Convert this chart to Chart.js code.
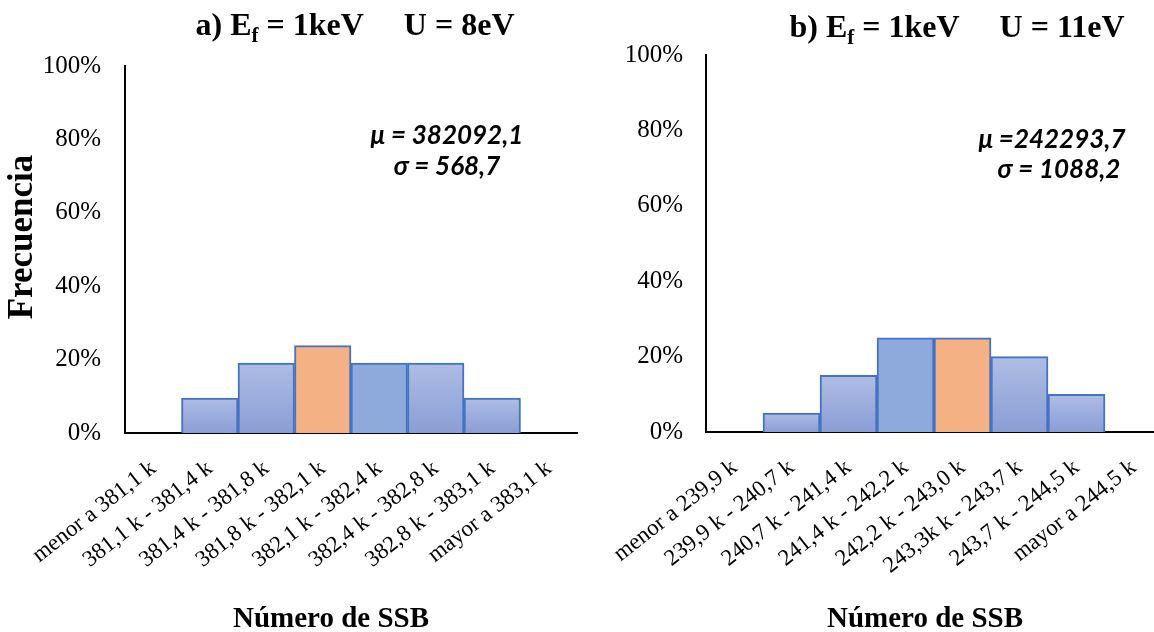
<!DOCTYPE html>
<html>
<head>
<meta charset="utf-8">
<script src="https://cdn.jsdelivr.net/npm/chart.js@4.4.1/dist/chart.umd.min.js"></script>
<style>
  html, body { margin: 0; padding: 0; background: #fff; width: 1154px; height: 632px; overflow: hidden; position: relative; }
  .panel { position: absolute; top: 0; height: 632px; }
  #panelA { left: 0; width: 580px; }
  #panelB { left: 580px; width: 590px; }
</style>
</head>
<body>
<div class="panel" id="panelA"><canvas id="histA" width="580" height="632"></canvas></div>
<div class="panel" id="panelB"><canvas id="histB" width="590" height="632"></canvas></div>
<script>
// Bins (SSB count intervals) and relative frequencies in percent
const binsA = ['menor a 381,1 k', '381,1 k - 381,4 k', '381,4 k - 381,8 k', '381,8 k - 382,1 k',
               '382,1 k - 382,4 k', '382,4 k - 382,8 k', '382,8 k - 383,1 k', 'mayor a 383,1 k'];
const freqA = [0, 9.52, 19.05, 23.81, 19.05, 19.05, 9.52, 0];

const binsB = ['menor a 239,9 k', '239,9 k - 240,7 k', '240,7 k - 241,4 k', '241,4 k - 242,2 k',
               '242,2 k - 243,0 k', '243,3k k - 243,7 k', '243,7 k - 244,5 k', 'mayor a 244,5 k'];
const freqB = [0, 5, 15, 25, 25, 20, 10, 0];

const yTicks = [0, 20, 40, 60, 80, 100];

const statsA = ['\u03bc = 382092,1', '\u03c3 = 568,7'];
const statsB = ['\u03bc =242293,7', '\u03c3 = 1088,2'];

const SERIF = '"Liberation Serif", "Times New Roman", serif';

// bins with a special fill: the one holding the mean (orange) and its flat-filled neighbour
const specialA = { 3: 'orange', 4: 'solid' };
const specialB = { 4: 'orange', 3: 'solid' };

function barFill(special) {
  return (c) => {
    const kind = special[c.dataIndex] || 'grad';
    if (kind === 'orange') return '#f4b183';
    if (kind === 'solid') return '#8eaadc';
    const chart = c.chart;
    const v = c.parsed ? c.parsed.y : c.raw;
    if (!chart.chartArea || !v) return '#9cafdc';
    const y = chart.scales.y;
    const g = chart.ctx.createLinearGradient(0, y.getPixelForValue(v), 0, y.getPixelForValue(0));
    g.addColorStop(0, '#aebde3');
    g.addColorStop(1, '#8a9ed6');
    return g;
  };
}

// titles with subscript, axis titles and statistics box
const captions = {
  id: 'captions',
  afterDraw(chart, args, o) {
    const ctx = chart.ctx;
    ctx.save();
    ctx.fillStyle = '#000';
    ctx.textBaseline = 'alphabetic';

    // chart title made of runs, some of them subscripted
    const t = o.title;
    let total = 0;
    const runs = t.runs.map(r => {
      ctx.font = r.sub ? t.subFont : t.font;
      const w = ctx.measureText(r.text).width;
      total += w;
      return { ...r, w };
    });
    let x = t.x - total / 2;
    ctx.textAlign = 'left';
    runs.forEach(r => {
      ctx.font = r.sub ? t.subFont : t.font;
      ctx.fillText(r.text, x, t.y + (r.sub ? t.subShift : 0));
      x += r.w;
    });

    // x axis title
    ctx.textAlign = 'center';
    ctx.font = o.xTitle.font;
    ctx.fillText(o.xTitle.text, o.xTitle.x, o.xTitle.y);

    // y axis title
    if (o.yTitle) {
      ctx.save();
      ctx.translate(o.yTitle.x, o.yTitle.y);
      ctx.rotate(-Math.PI / 2);
      ctx.font = o.yTitle.font;
      ctx.fillText(o.yTitle.text, 0, 0);
      ctx.restore();
    }

    // statistics
    ctx.font = o.stats.font;
    o.stats.lines.forEach((s, i) => ctx.fillText(s, o.stats.x[i], o.stats.y[i]));
    ctx.restore();
  }
};

function makeHist(canvasId, bins, freq, special, geo, cap) {
  return new Chart(document.getElementById(canvasId), {
    type: 'bar',
    data: {
      labels: bins,
      datasets: [{
        data: freq,
        backgroundColor: barFill(special),
        borderColor: '#4472c4',
        borderWidth: 2,
        categoryPercentage: 1.0,
        barPercentage: 1.0
      }]
    },
    options: {
      responsive: false,
      animation: false,
      devicePixelRatio: 1,
      layout: { padding: geo.padding },
      plugins: {
        legend: { display: false },
        tooltip: { enabled: false },
        captions: cap
      },
      scales: {
        x: {
          type: 'category',
          grid: { display: false, drawTicks: false },
          border: { display: true, color: '#000', width: 2 },
          ticks: {
            autoSkip: false,
            minRotation: 38,
            maxRotation: 38,
            padding: geo.xPad,
            color: '#000',
            font: { family: SERIF, size: 23 }
          },
          afterFit: (s) => {
            s.height = geo.xHeight;
            s.paddingLeft = 0;
            s.paddingRight = 0;
          }
        },
        y: {
          min: 0,
          max: 100,
          grid: { display: false, drawTicks: false },
          border: { display: true, color: '#000', width: 2 },
          ticks: {
            padding: geo.yPad,
            color: '#000',
            font: { family: SERIF, size: 25 },
            callback: (v) => v + '%'
          },
          afterBuildTicks: (s) => { s.ticks = yTicks.map(v => ({ value: v })); },
          afterFit: (s) => {
            s.width = geo.yWidth;
            s.paddingTop = 0;
            s.paddingBottom = 0;
          }
        }
      }
    },
    plugins: [captions]
  });
}

makeHist('histA', binsA, freqA, specialA,
  { padding: { top: 66, right: 3, bottom: 0, left: 0 }, xHeight: 199, yWidth: 125, xPad: 22, yPad: 24 },
  {
    title: {
      x: 355, y: 35, subShift: 7,
      font: 'bold 32px ' + SERIF, subFont: 'bold 21px ' + SERIF,
      runs: [{ text: 'a) E' }, { text: 'f', sub: true }, { text: ' = 1keV     U = 8eV' }]
    },
    xTitle: { text: 'Número de SSB', x: 331, y: 627, font: 'bold 29px ' + SERIF },
    yTitle: { text: 'Frecuencia', x: 32, y: 237, font: 'bold 35px ' + SERIF },
    stats: { lines: statsA, x: [447, 447], y: [144, 175], font: 'italic bold 26px Lato, "Open Sans", sans-serif' }
  });

makeHist('histB', binsB, freqB, specialB,
  { padding: { top: 55, right: 8, bottom: 0, left: 0 }, xHeight: 200, yWidth: 126, xPad: 22, yPad: 23 },
  {
    title: {
      x: 377, y: 37, subShift: 7,
      font: 'bold 32px ' + SERIF, subFont: 'bold 21px ' + SERIF,
      runs: [{ text: 'b) E' }, { text: 'f', sub: true }, { text: ' = 1keV     U = 11eV' }]
    },
    xTitle: { text: 'Número de SSB', x: 345, y: 627, font: 'bold 29px ' + SERIF },
    stats: { lines: statsB, x: [472, 479], y: [148, 178], font: 'italic bold 26px Lato, "Open Sans", sans-serif' }
  });
</script>
</body>
</html>
